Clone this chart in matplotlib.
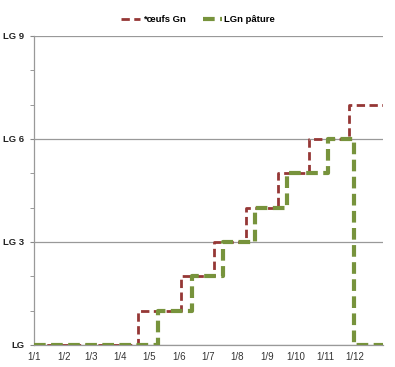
import numpy as np
import pandas as pd
import matplotlib
matplotlib.use('Agg')
import matplotlib.pyplot as plt

# change dates (day/month) and level reached at each date
oeufs_dates = ['01/01', '19/04', '03/06', '08/07', '10/08', '12/09', '15/10', '25/11', '31/12']
oeufs_levels = [0, 1, 2, 3, 4, 5, 6, 7, 7]

pature_dates = ['01/01', '10/05', '15/06', '17/07', '19/08', '22/09', '03/11', '01/12', '31/12']
pature_levels = [0, 1, 2, 3, 4, 5, 6, 0, 0]

month_labels = ['1/1', '1/2', '1/3', '1/4', '1/5', '1/6', '1/7', '1/8', '1/9', '1/10', '1/11', '1/12']
y_ticks = [0, 3, 6, 9]
y_labels = ['LG', 'LG 3', 'LG 6', 'LG 9']


def to_dates(days):
    return pd.to_datetime([d + '/2011' for d in days], format='%d/%m/%Y')


plt.rcParams['font.family'] = ['Liberation Sans', 'DejaVu Sans']

fig = plt.figure(figsize=(3.95, 3.67), dpi=100)
ax = fig.add_axes([0.086, 0.060, 0.884, 0.842])

ax.step(to_dates(oeufs_dates), oeufs_levels, where='post', color='#953735',
        lw=2, dashes=(3, 1.6), label='*œufs Gn', zorder=3)
ax.step(to_dates(pature_dates), pature_levels, where='post', color='#77933C',
        lw=3, dashes=(2.8, 1.3), label='LGn pâture', zorder=4)

ax.set_xlim(pd.Timestamp('2011-01-01'), pd.Timestamp('2011-12-31'))
ax.set_ylim(0, 9)

month_starts = pd.date_range('2011-01-01', periods=12, freq='MS')
ax.set_xticks(month_starts)
ax.set_xticklabels(month_labels, fontsize=7, color='#333333')
ax.tick_params(axis='x', length=0, pad=5)

ax.set_yticks(y_ticks)
ax.set_yticklabels(y_labels, fontsize=6.8, fontweight='bold', color='#222222')
ax.set_yticks(np.arange(0, 10), minor=True)
ax.tick_params(axis='y', which='both', length=3, color='#888888', direction='out', pad=4)

ax.grid(axis='y', which='major', color='#999999', lw=0.9)
ax.set_axisbelow(True)
for s in ['top', 'right']:
    ax.spines[s].set_visible(False)
for s in ['left', 'bottom']:
    ax.spines[s].set_color('#999999')
    ax.spines[s].set_linewidth(0.9)

leg = ax.legend(loc='upper center', bbox_to_anchor=(0.47, 1.095), ncol=2, frameon=False,
                handlelength=2.0, columnspacing=1.8, handletextpad=0.3,
                prop={'size': 6.8, 'weight': 'bold'})

fig.savefig('out.png', dpi=100)
